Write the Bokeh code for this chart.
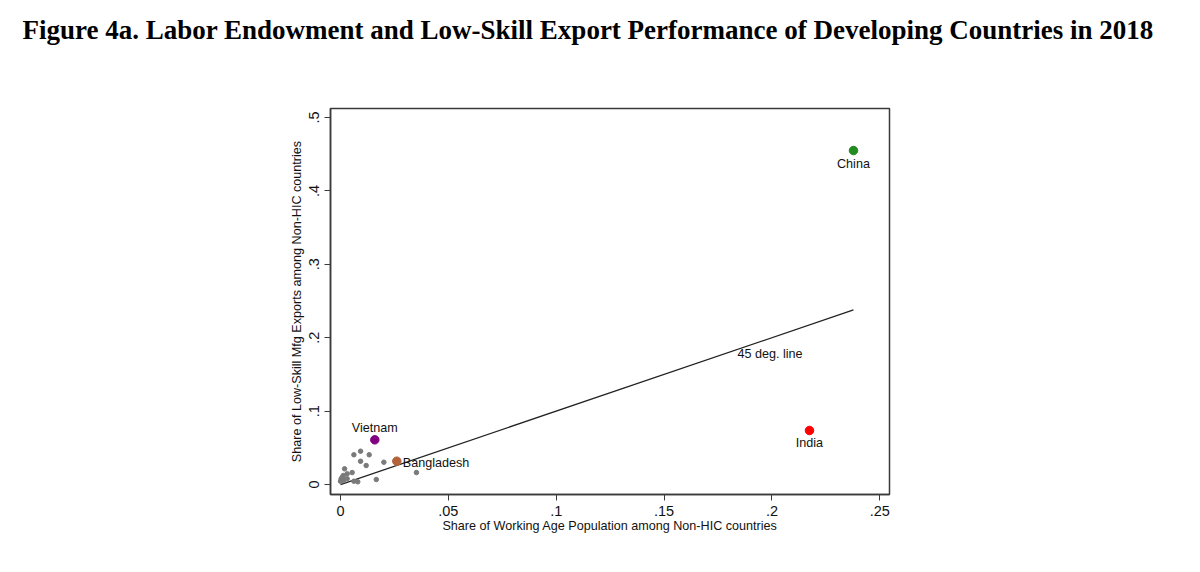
from bokeh.plotting import figure
from bokeh.models import FixedTicker, ColumnDataSource, Label, Title
from bokeh.embed import file_html
from bokeh.resources import INLINE

# ---- data ----
other_x = [0.0062, 0.0093, 0.0133, 0.0093, 0.0119, 0.0201, 0.0352, 0.0166,
           0.0019, 0.0054, 0.0031, 0.0013, 0.0003, 0.0015, 0.0031, 0.0062,
           0.0080, 0.0000, 0.0008]
other_y = [0.0405, 0.0454, 0.0405, 0.0317, 0.0259, 0.0304, 0.0163, 0.0068,
           0.0214, 0.0163, 0.0146, 0.0123, 0.0078, 0.0054, 0.0078, 0.0045,
           0.0037, 0.0045, 0.0099]

countries = ["China", "India", "Vietnam", "Bangladesh"]
country_x = [0.2378, 0.2174, 0.0159, 0.0261]
country_y = [0.4550, 0.0736, 0.0609, 0.0318]
country_colors = ["#228b22", "#ff0000", "#800080", "#b4623a"]

line_x = [0.0, 0.2378]
line_y = [0.0, 0.2378]

x_ticks = [0, 0.05, 0.1, 0.15, 0.2, 0.25]
x_tick_labels = ["0", ".05", ".1", ".15", ".2", ".25"]
y_ticks = [0, 0.1, 0.2, 0.3, 0.4, 0.5]
y_tick_labels = ["0", ".1", ".2", ".3", ".4", ".5"]

title_text = "Figure 4a. Labor Endowment and Low-Skill Export Performance of Developing Countries in 2018"
x_title = "Share of Working Age Population among Non-HIC countries"
y_title = "Share of Low-Skill Mfg Exports among Non-HIC countries"

FONT = "Liberation Sans"

p = figure(title=None, frame_width=559, frame_height=386,
           min_border_left=330, min_border_right=295,
           min_border_top=108, min_border_bottom=62,
           x_range=(-0.00464, 0.2545), y_range=(-0.0136, 0.5123),
           output_backend="svg", toolbar_location=None,
           background_fill_color="white", border_fill_color="white")

# spacer between the frame and the title (closest to the frame)
p.add_layout(Title(text=" ", text_font_size="2px", standoff=60), "above")
# the actual title
p.add_layout(Title(text=title_text, text_font="Liberation Serif", text_font_style="bold",
                   text_font_size="27px", text_color="black", align="left",
                   vertical_align="bottom", offset=-308, standoff=0), "above")

p.outline_line_color = "#3a3a3a"
p.outline_line_width = 1.5
p.xgrid.visible = False
p.ygrid.visible = False

for ax in (p.xaxis[0], p.yaxis[0]):
    ax.axis_line_color = "#3a3a3a"
    ax.axis_line_width = 1.5
    ax.major_tick_line_color = "#3a3a3a"
    ax.major_tick_in = 0
    ax.major_tick_out = 6
    ax.minor_tick_line_color = None
    ax.major_label_text_font = FONT
    ax.major_label_text_font_size = "14.5px"
    ax.major_label_text_color = "#111"
    ax.axis_label_text_font = FONT
    ax.axis_label_text_font_size = "12.6px"
    ax.axis_label_text_font_style = "normal"
    ax.axis_label_text_color = "#111"

p.xaxis[0].ticker = FixedTicker(ticks=x_ticks)
p.xaxis[0].major_label_overrides = dict(zip(x_ticks, x_tick_labels))
p.xaxis[0].axis_label = x_title
p.xaxis[0].major_label_standoff = 5
p.xaxis[0].axis_label_standoff = 0

p.yaxis[0].ticker = FixedTicker(ticks=y_ticks)
p.yaxis[0].major_label_overrides = dict(zip(y_ticks, y_tick_labels))
p.yaxis[0].axis_label = y_title
p.yaxis[0].major_label_orientation = "vertical"
p.yaxis[0].major_label_standoff = 5
p.yaxis[0].axis_label_standoff = 3

# 45 degree line
p.line(line_x, line_y, line_color="#222222", line_width=1.3)

# other countries
p.scatter(other_x, other_y, size=4.5, fill_color="#7a7a7a", line_color="#7a7a7a")

# highlighted countries
src = ColumnDataSource(dict(x=country_x, y=country_y, name=countries, color=country_colors))
p.scatter("x", "y", source=src, size=8.5, fill_color="color", line_color="color")

def lab(i, **kw):
    p.add_layout(Label(x=country_x[i], y=country_y[i], text=countries[i],
                       text_font=FONT, text_font_size="12.6px", text_color="#111", **kw))

lab(0, text_align="center", text_baseline="top", y_offset=-6)
lab(1, text_align="center", text_baseline="top", y_offset=-6)
lab(2, text_align="center", text_baseline="bottom", y_offset=5)
lab(3, text_align="left", text_baseline="middle", x_offset=6, y_offset=-2)

p.add_layout(Label(x=0.184, y=0.1785, text="45 deg. line", text_align="left",
                   text_baseline="middle", text_font=FONT, text_font_size="12.6px",
                   text_color="#111"))

open("out.html", "w").write(file_html(p, INLINE))
